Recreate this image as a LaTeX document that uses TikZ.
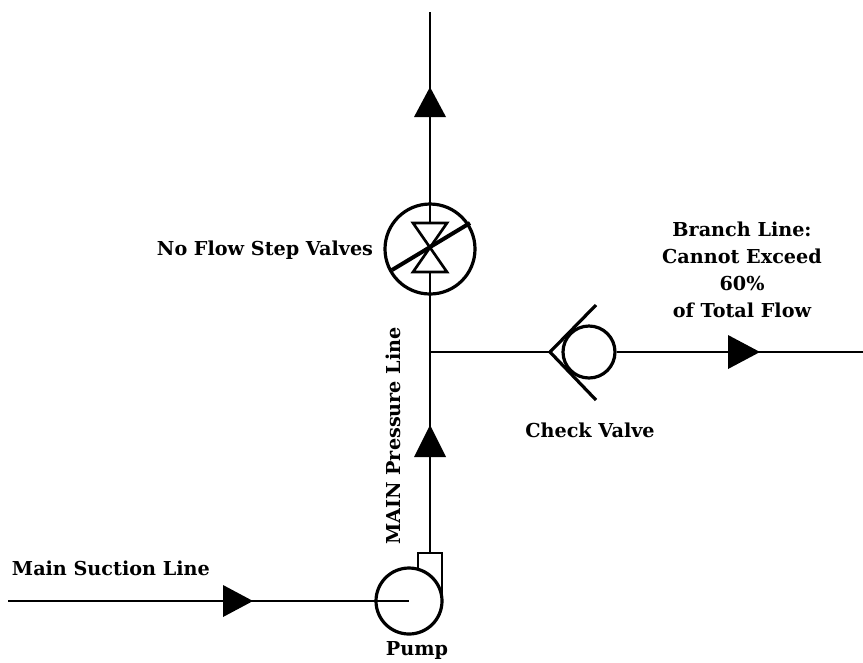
\documentclass[tikz,border=0pt]{standalone}
\usepackage{tikz}
\usepackage{fontspec}
\setmainfont{DejaVu Serif}

\tikzset{every picture/.style={line width=1.5pt}}
\tikzset{
  pipe/.style={line width=1.8pt},
  symbol/.style={draw, circle, inner sep=0pt, line width=2.4pt},
  label/.style={anchor=base, inner sep=0.75pt, font=\fontsize{14.4}{20.25}\selectfont\bfseries}
}

\begin{document}
\begin{tikzpicture}[x=0.75pt,y=0.75pt,yscale=-1,xscale=1]
\useasboundingbox (0,0) rectangle (863,662);

%Points on the pipes
\coordinate (top) at (430,12);
\coordinate (valvein) at (430,272);
\coordinate (valveout) at (430,223);
\coordinate (junction) at (430,352);
\coordinate (pumpout) at (430,553);
\coordinate (suction) at (8,601);
\coordinate (seat) at (550,352);
\coordinate (branchend) at (863,352);

%Shape: Circle [valve]
\node [symbol, minimum size=67.5pt] (valve) at (430,249) {};
%Shape: Circle [pump]
\node [symbol, minimum size=49.5pt] (pump) at (409,601) {};
%Shape: Circle [check valve]
\node [symbol, minimum size=39pt] (check) at (589,352) {};

%Straight Lines [main pressure line]
\draw [pipe] (pumpout) -- (junction) ;
\draw [pipe] (junction) -- (valvein) ;
\draw [pipe] (valveout) -- (top) ;
%Straight Lines [suction line]
\draw [pipe] (suction) -- (pump.center) ;
%Straight Lines [branch line]
\draw [pipe] (junction) -- (seat) ;
\draw [pipe] (check.east) -- (branchend) ;

%Shape: Pump outlet
\draw [line width=2.2pt] (418,569) -- (418,553) -- (442,553) -- (442,601) ;
%Shape: Bow tie
\draw [line width=2pt, line join=miter] (413,223) -- (447,223) -- (413,272) -- (447,272) -- cycle ;
%Straight Lines [valve slash]
\draw [line width=3pt] (392,270) -- (470,223) ;
%Shape: Check seat
\draw [line width=2.4pt] (596,305) -- (seat) -- (596,400) ;

%Flow tips
\fill [shift={(430,102)}, rotate=270] (15,0) -- (-15,16) -- (-15,-16) -- cycle ;
\fill [shift={(430,441)}, rotate=270] (16,0) -- (-16,16) -- (-16,-16) -- cycle ;
\fill [shift={(238,601)}, rotate=0] (15,0) -- (-15,16) -- (-15,-16) -- cycle ;
\fill [shift={(744,352)}, rotate=0] (16,0) -- (-16,17) -- (-16,-17) -- cycle ;

% Text Node
\node [label] (lblvalve) at (265,255) {No Flow Step Valves};
% Text Node
\node [label, anchor=center, rotate=90] (lblmain) at (393,436) {MAIN Pressure Line};
% Text Node
\node [label, anchor=base west] (lblsuction) at (10,575) {Main Suction Line};
% Text Node
\node [label] (lblpump) at (417,655) {Pump};
% Text Node
\node [label] (lblcheck) at (590,437) {Check Valve};
% Text Node
\node [label, align=center] (lblbranch) at (742,317) {Branch Line:\\Cannot Exceed\\60\%\\of Total Flow};

\end{tikzpicture}
\end{document}
